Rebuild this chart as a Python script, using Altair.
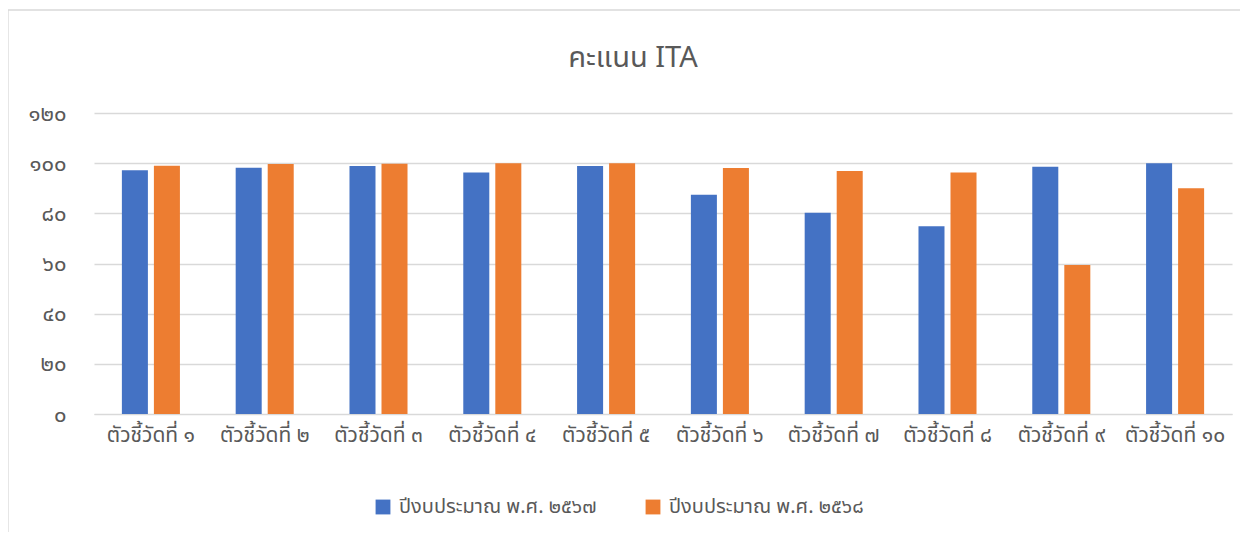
import altair as alt
import pandas as pd

categories = ["ตัวชี้วัดที่ ๑", "ตัวชี้วัดที่ ๒", "ตัวชี้วัดที่ ๓", "ตัวชี้วัดที่ ๔", "ตัวชี้วัดที่ ๕",
              "ตัวชี้วัดที่ ๖", "ตัวชี้วัดที่ ๗", "ตัวชี้วัดที่ ๘", "ตัวชี้วัดที่ ๙", "ตัวชี้วัดที่ ๑๐"]
series = ["ปีงบประมาณ พ.ศ. ๒๕๖๗", "ปีงบประมาณ พ.ศ. ๒๕๖๘"]
values_2567 = [97.2, 98.2, 98.9, 96.3, 98.9, 87.4, 80.2, 74.9, 98.6, 100.0]
values_2568 = [99.0, 99.7, 99.8, 100.0, 100.0, 98.1, 96.9, 96.3, 59.4, 90.0]
y_tick_values = [0, 20, 40, 60, 80, 100, 120]
y_tick_labels = ["๐", "๒๐", "๔๐", "๖๐", "๘๐", "๑๐๐", "๑๒๐"]
colors = ["#4472C4", "#ED7D31"]

rows = []
for c, a, b in zip(categories, values_2567, values_2568):
    rows.append({"cat": c, "series": series[0], "value": a})
    rows.append({"cat": c, "series": series[1], "value": b})
df = pd.DataFrame(rows)

label_expr = "".join(
    f"datum.value == {v} ? '{l}' : " for v, l in zip(y_tick_values, y_tick_labels)
) + "datum.label"

FONT = "Noto Sans Thai, Noto Sans, sans-serif"
TEXT = "#595959"
GRID = "#D9D9D9"

bars = alt.Chart(df).mark_bar().encode(
    x=alt.X("cat:N", sort=categories,
            scale=alt.Scale(paddingInner=0.49, paddingOuter=0.245),
            axis=alt.Axis(title=None, labelAngle=0, ticks=False, domain=True,
                          domainColor=GRID, domainWidth=1, labelPadding=10,
                          labelFontSize=21, labelColor=TEXT, labelFont=FONT,
                          labelLimit=0)),
    xOffset=alt.XOffset("series:N", sort=series,
                        scale=alt.Scale(paddingInner=0.1875, paddingOuter=0)),
    y=alt.Y("value:Q", scale=alt.Scale(domain=[0, 120]),
            axis=alt.Axis(title=None, values=y_tick_values, labelExpr=label_expr,
                          ticks=False, domain=False, grid=True, gridColor=GRID,
                          gridWidth=1.3, labelPadding=28, labelFontSize=22,
                          labelColor=TEXT, labelFont=FONT)),
    color=alt.Color("series:N", sort=series,
                    scale=alt.Scale(domain=series, range=colors),
                    legend=alt.Legend(title=None, orient="none", direction="horizontal",
                                      legendX=279, legendY=384, symbolType="square",
                                      symbolSize=220, symbolStrokeWidth=0,
                                      labelFontSize=20, labelColor=TEXT, labelFont=FONT,
                                      labelLimit=0, columnPadding=46, labelOffset=6)),
)

frame_df = pd.DataFrame({"frame": [1]})
frame = alt.Chart(frame_df).mark_rect(fill=None, stroke=GRID, strokeWidth=1.3).encode(
    x=alt.value(-86), x2=alt.value(1147), y=alt.value(-103), y2=alt.value(427)
)

chart = alt.layer(frame, bars).properties(
    width=1138,
    height=301,
    title=alt.TitleParams("คะแนน ITA", fontSize=29, font=FONT, color=TEXT,
                          fontWeight="normal", anchor="middle", dx=-30, offset=0, dy=64),
    autosize=alt.AutoSizeParams(type="none"),
    padding={"left": 86, "top": 105, "right": 8, "bottom": 118},
).configure_view(stroke=None)

chart.save("out.html", embed_options={"renderer": "svg", "actions": False})
